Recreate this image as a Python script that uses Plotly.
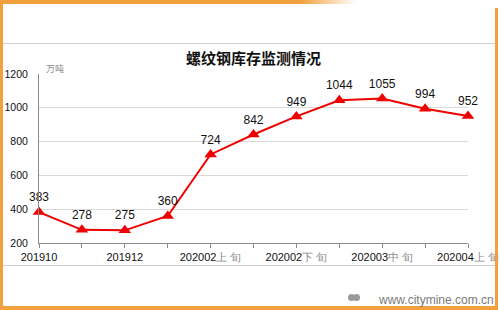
import plotly.graph_objects as go

categories = ["201910", "201911", "201912", "202001", "202002上旬", "202002中旬",
              "202002下旬", "202003上旬", "202003中旬", "202003下旬", "202004上旬"]
values = [383, 278, 275, 360, 724, 842, 949, 1044, 1055, 994, 952]
tick_labels = ["201910", "", "201912", "", "202002<span style='color:#8a8a8a'>上 旬</span>", "",
               "202002<span style='color:#8a8a8a'>下 旬</span>", "",
               "202003<span style='color:#8a8a8a'>中 旬</span>", "",
               "202004<span style='color:#8a8a8a'>上 旬</span>"]
y_ticks = [200, 400, 600, 800, 1000, 1200]

W, H = 500, 310
L, R, T, B = 39, 468, 74, 243

def px(x):
    return (x - L) / (R - L)

def py(y):
    return (B - y) / (B - T)

fig = go.Figure()
fig.add_trace(go.Scatter(
    x=categories, y=values, mode="lines+markers+text",
    line=dict(color="#ee0000", width=2),
    marker=dict(symbol="triangle-up", size=11, color="#ee0000"),
    text=[str(v) for v in values], textposition="top center",
    textfont=dict(family="Liberation Sans, Arial", size=12, color="#111"),
    cliponaxis=False, hoverinfo="skip"))

orange = "rgb(240,160,60)"
shapes = []
# left border
shapes.append(dict(type="rect", xref="paper", yref="paper", x0=px(0), x1=px(3), y0=py(0), y1=py(310),
                   fillcolor=orange, line_width=0, layer="above"))
# right border
shapes.append(dict(type="rect", xref="paper", yref="paper", x0=px(495), x1=px(498), y0=py(8), y1=py(310),
                   fillcolor=orange, line_width=0, layer="above"))
# bottom border
shapes.append(dict(type="rect", xref="paper", yref="paper", x0=px(0), x1=px(498), y0=py(306), y1=py(310),
                   fillcolor=orange, line_width=0, layer="above"))
# top gradient band: solid part then fade
shapes.append(dict(type="rect", xref="paper", yref="paper", x0=px(0), x1=px(300), y0=py(0), y1=py(4),
                   fillcolor=orange, line_width=0, layer="above"))
for x0 in range(300, 356, 1):
    op = max(0.0, 1 - (x0 - 300) / 56)
    shapes.append(dict(type="rect", xref="paper", yref="paper", x0=px(x0), x1=px(x0 + 1), y0=py(0), y1=py(4),
                       fillcolor=orange, opacity=op, line_width=0, layer="above"))
# gray separator lines
shapes.append(dict(type="line", xref="paper", yref="paper", x0=px(3), x1=px(495), y0=py(43.5), y1=py(43.5),
                   line=dict(color="#cfcfcf", width=1)))
shapes.append(dict(type="line", xref="paper", yref="paper", x0=px(3), x1=px(495), y0=py(265.5), y1=py(265.5),
                   line=dict(color="#cfcfcf", width=1)))
# logo circles
shapes.append(dict(type="circle", xref="paper", yref="paper", x0=px(348), x1=px(355), y0=py(294), y1=py(301),
                   fillcolor="#9a9a9a", line_width=0))
shapes.append(dict(type="circle", xref="paper", yref="paper", x0=px(353), x1=px(360), y0=py(294), y1=py(301),
                   fillcolor="#9a9a9a", line_width=0))

annotations = [
    dict(text="<b>螺纹钢库存监测情况</b>", xref="paper", yref="paper", x=px(253), y=py(58),
         showarrow=False, font=dict(family="Noto Sans CJK SC", size=15, color="#111"),
         xanchor="center", yanchor="middle"),
    dict(text="万吨", xref="paper", yref="paper", x=px(44), y=py(68), showarrow=False,
         font=dict(family="Noto Sans CJK SC", size=9, color="#8a8a8a"), xanchor="left", yanchor="middle"),
    dict(text="www.citymine.com.cn", xref="paper", yref="paper", x=px(496), y=py(300), showarrow=False,
         font=dict(family="Liberation Sans, Arial", size=12, color="#7a7a7a"), xanchor="right", yanchor="middle"),
]

fig.update_layout(
    width=W, height=H, margin=dict(l=L, r=W - R, t=T, b=H - B, autoexpand=False),
    paper_bgcolor="white", plot_bgcolor="white", showlegend=False,
    shapes=shapes, annotations=annotations,
    xaxis=dict(type="category", range=[0, 10], tickmode="array", tickvals=categories, ticktext=tick_labels,
               ticks="outside", ticklen=4, tickcolor="#8a8a8a", showline=True, linecolor="#8a8a8a",
               showgrid=False, tickangle=0, automargin=False,
               tickfont=dict(family="Liberation Sans, Arial", size=11, color="#111")),
    yaxis=dict(range=[200, 1200], tickvals=y_ticks, showgrid=True, gridcolor="#d9d9d9",
               showline=True, linecolor="#8a8a8a", ticks="", zeroline=False, ticklabelstandoff=8,
               automargin=False,
               tickfont=dict(family="Liberation Sans, Arial", size=10.5, color="#111")),
)

fig.write_html("out.html")
